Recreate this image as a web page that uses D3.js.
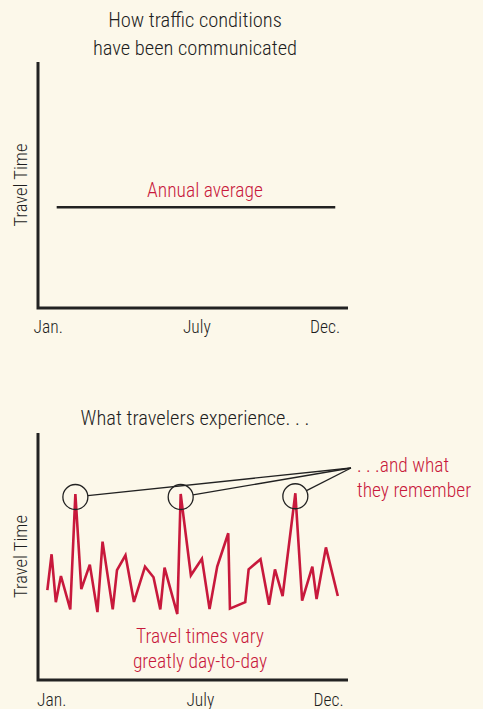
<!DOCTYPE html>
<html lang="en">
<head>
    <meta charset="UTF-8">
    <title>Travel time</title>
    <script src="https://d3js.org/d3.v7.min.js"></script>
    <style>
        body { margin: 0; background: #fcf8ea; }
        svg { display: block; }
        text { font-family: "Roboto Condensed", "Liberation Sans Narrow", "Liberation Sans", sans-serif; font-weight: 300; fill: #1e1e1e; }
        .red { fill: #c8193c; }
    </style>
</head>
<body>
    <div id="chart"></div>

    <script>
        // month labels and where they sit (day of year)
        const tickLabels = ["Jan.", "July", "Dec."];
        const tickDays = [12, 187, 338];

        // top chart: the annual average, one flat value
        const avgValue = 41;
        const avgDays = [22, 350];

        const days = [11, 16, 21, 27, 38, 44, 51, 61, 70, 76, 88, 93, 103, 113, 126, 136, 144, 149, 164, 168,
                      180, 193, 202, 211, 224, 226, 244, 248, 262, 272, 279, 288, 303, 311, 323, 328, 339, 353];
        const travel = [36.4, 50.9, 31.5, 42.1, 28.6, 75.3, 36.8, 46.7, 27.5, 56.0, 28.6, 44.5, 50.5, 31.6, 45.9, 41.6, 28.6, 45.5, 26.7, 75.3,
                        42.4, 49.1, 28.7, 45.9, 59.4, 28.9, 31.5, 44.8, 48.9, 30.5, 44.8, 34.0, 75.6, 32.1, 45.9, 32.8, 53.7, 34.0];

        // the spikes people remember
        const peakIdx = [5, 19, 32];

        const width = 483, height = 709;
        const red = "#c8193c";

        const svg = d3.select("#chart").append("svg")
            .attr("width", width)
            .attr("height", height);

        // ---------- top chart ----------
        const x1 = d3.scaleLinear().domain([0, 365]).range([38, 348]);
        const y1 = d3.scaleLinear().domain([0, 100]).range([308, 62]);

        const topG = svg.append("g");

        topG.append("text")
            .attr("text-anchor", "middle")
            .attr("font-size", 20.5)
            .selectAll("tspan")
            .data(["How traffic conditions", "have been communicated"])
            .join("tspan")
                .attr("x", 195)
                .attr("y", (d, i) => 27 + i * 28)
                .text(d => d);

        // axes drawn as plain lines, with month labels from the scale
        topG.append("path")
            .attr("fill", "none").attr("stroke", "#222").attr("stroke-width", 3)
            .attr("d", `M${x1(0)},${y1(100)}V${y1(0)}H${x1(365)}`);

        topG.selectAll(".tick")
            .data(tickLabels)
            .join("text")
                .attr("class", "tick")
                .attr("text-anchor", "middle")
                .attr("font-size", 17.5)
                .attr("x", (d, i) => x1(tickDays[i]))
                .attr("y", 333)
                .text(d => d);

        topG.append("text")
            .attr("text-anchor", "middle")
            .attr("font-size", 18.5)
            .attr("transform", `translate(27,${y1(50)}) rotate(-90)`)
            .text("Travel Time");

        topG.append("line")
            .attr("x1", x1(avgDays[0])).attr("x2", x1(avgDays[1]))
            .attr("y1", y1(avgValue)).attr("y2", y1(avgValue))
            .attr("stroke", "#222").attr("stroke-width", 2.5);

        topG.append("text")
            .attr("class", "red")
            .attr("text-anchor", "middle")
            .attr("font-size", 19.5)
            .attr("x", 205)
            .attr("y", y1(avgValue) - 10)
            .text("Annual average");

        // ---------- bottom chart ----------
        const x2 = d3.scaleLinear().domain([0, 365]).range([38, 348]);
        const y2 = d3.scaleLinear().domain([0, 100]).range([680, 433]);

        const botG = svg.append("g");

        botG.append("text")
            .attr("text-anchor", "middle")
            .attr("font-size", 20.5)
            .attr("x", 195)
            .attr("y", 425)
            .text("What travelers experience. . .");

        botG.append("path")
            .attr("fill", "none").attr("stroke", "#222").attr("stroke-width", 3)
            .attr("d", `M${x2(0)},${y2(100)}V${y2(0)}H${x2(365)}`);

        botG.selectAll(".tick")
            .data(tickLabels)
            .join("text")
                .attr("class", "tick")
                .attr("text-anchor", "middle")
                .attr("font-size", 17.5)
                .attr("x", (d, i) => x2(tickDays[i]) + 3.5)
                .attr("y", 706)
                .text(d => d);

        botG.append("text")
            .attr("text-anchor", "middle")
            .attr("font-size", 18.5)
            .attr("transform", `translate(27,${y2(50)}) rotate(-90)`)
            .text("Travel Time");

        const line = d3.line()
            .x((d, i) => x2(days[i]))
            .y(d => y2(d));

        botG.append("path")
            .datum(travel)
            .attr("fill", "none")
            .attr("stroke", red)
            .attr("stroke-width", 2.6)
            .attr("stroke-linejoin", "miter")
            .attr("d", line);

        // circles round the peaks, with pointer lines to the note
        const r = 12.5;
        const note = [351, 468];
        peakIdx.forEach(i => {
            const cx = x2(days[i]), cy = y2(travel[i]) + 3;
            const ang = Math.atan2(note[1] - cy, note[0] - cx);
            botG.append("circle")
                .attr("cx", cx).attr("cy", cy).attr("r", r)
                .attr("fill", "none").attr("stroke", "#222").attr("stroke-width", 1.3);
            botG.append("line")
                .attr("x1", cx + r * Math.cos(ang)).attr("y1", cy + r * Math.sin(ang))
                .attr("x2", note[0]).attr("y2", note[1])
                .attr("stroke", "#222").attr("stroke-width", 1.3);
        });

        botG.append("text")
            .attr("class", "red")
            .attr("font-size", 19.5)
            .selectAll("tspan")
            .data([". . .and what", "they remember"])
            .join("tspan")
                .attr("x", 357)
                .attr("y", (d, i) => 472 + i * 25)
                .text(d => d);

        botG.append("text")
            .attr("class", "red")
            .attr("text-anchor", "middle")
            .attr("font-size", 19.5)
            .selectAll("tspan")
            .data(["Travel times vary", "greatly day-to-day"])
            .join("tspan")
                .attr("x", 200)
                .attr("y", (d, i) => 643 + i * 25)
                .text(d => d);
    </script>
</body>
</html>
